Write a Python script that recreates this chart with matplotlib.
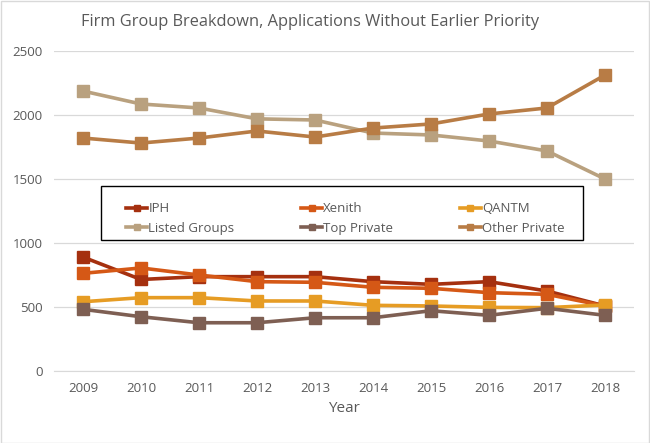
import matplotlib
matplotlib.use('Agg')
import matplotlib.pyplot as plt
from matplotlib.patches import Rectangle
import numpy as np

years = ['2009', '2010', '2011', '2012', '2013', '2014', '2015', '2016', '2017', '2018']
iph = [890, 715, 737, 737, 737, 698, 677, 698, 625, 508]
xenith = [763, 805, 750, 698, 693, 654, 646, 612, 599, 508]
qantm = [541, 573, 573, 547, 547, 513, 508, 497, 495, 516]
listed = [2187, 2086, 2055, 1970, 1961, 1859, 1844, 1797, 1719, 1500]
top_private = [482, 424, 377, 377, 416, 416, 471, 435, 490, 435]
other_private = [1820, 1781, 1820, 1875, 1828, 1898, 1930, 2008, 2055, 2312]

names = ['IPH', 'Xenith', 'QANTM', 'Listed Groups', 'Top Private', 'Other Private']
series = [iph, xenith, qantm, listed, top_private, other_private]
colors = ['#A5300F', '#D55816', '#E69C24', '#B9A17F', '#7E5F53', '#B87C45']

plt.rcParams['font.family'] = ['Open Sans', 'DejaVu Sans']

fig = plt.figure(figsize=(6.5, 4.43), dpi=100)
ax = fig.add_axes([54/650, 1-371/443, 580/650, 320/443])

x = np.arange(len(years))
for vals, name, c in zip(series, names, colors):
    ax.plot(x, vals, color=c, lw=2.6, marker='s', markersize=9, label=name)

ax.set_xlim(-0.5, len(years) - 0.5)
ax.set_ylim(0, 2500)
ax.set_yticks(range(0, 2501, 500))
ax.set_xticks(x)
ax.set_xticklabels(years)
ax.grid(axis='y', color='#D9D9D9', lw=0.9)
ax.set_axisbelow(True)
for s in ['top', 'right', 'left']:
    ax.spines[s].set_visible(False)
ax.spines['bottom'].set_color('#D9D9D9')
ax.tick_params(length=0, labelsize=9.5, colors='#595959', pad=8)
ax.set_xlabel('Year', fontsize=11, color='#595959', labelpad=4)

fig.text(310/650, 1-22/443, 'Firm Group Breakdown, Applications Without Earlier Priority',
         ha='center', va='center', fontsize=11.8, color='#595959')

# legend filled row by row like the original
handles, labels = ax.get_legend_handles_labels()
order = [0, 3, 1, 4, 2, 5]
ax.legend([handles[i] for i in order], [labels[i] for i in order],
          loc='lower left', bbox_to_anchor=(0.115, 0.409, 0.775, 0.169),
          mode='expand', ncol=3, frameon=False,
          fontsize=9.5, handlelength=1.6, handletextpad=0.1,
          borderaxespad=0, labelcolor='#595959', markerscale=0.55)
ax.add_patch(Rectangle((0.081, 0.409), 0.831, 0.169, transform=ax.transAxes,
                       facecolor='white', edgecolor='black', lw=1.0,
                       clip_on=False, zorder=4))

fig.patches.append(Rectangle((0.001, 0.001), 0.997, 0.997, transform=fig.transFigure,
                             fill=False, edgecolor='#D9D9D9', lw=1.0))

fig.savefig('out.png', dpi=100)
